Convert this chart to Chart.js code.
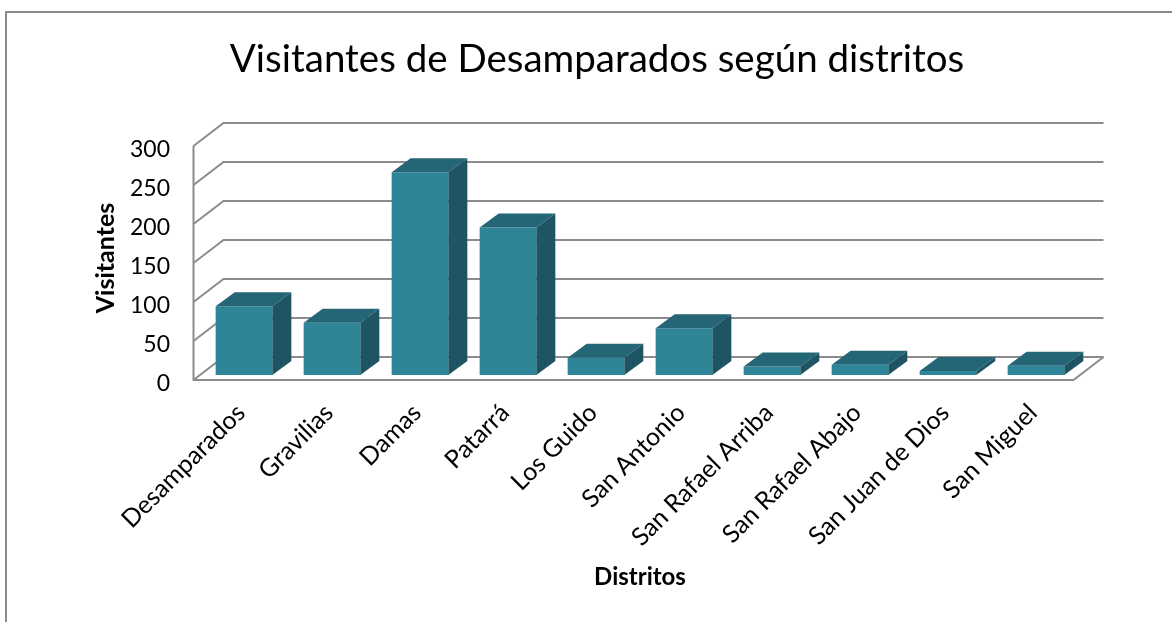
<!DOCTYPE html>
<html><head><meta charset="utf-8">
<script src="https://cdn.jsdelivr.net/npm/chart.js@4"></script>
<style>html,body{margin:0;padding:0;background:#fff}</style>
</head><body>
<canvas id="c" width="1172" height="622"></canvas>
<script>
const categories = ["Desamparados","Gravilias","Damas","Patarrá","Los Guido","San Antonio","San Rafael Arriba","San Rafael Abajo","San Juan de Dios","San Miguel"];
const visitantes = [88, 67, 260, 189, 22, 60, 11, 13, 5, 12];
const yTicks = [0, 50, 100, 150, 200, 250, 300];
const chartTitle = "Visitantes de Desamparados según distritos";
const xTitle = "Distritos";
const yTitle = "Visitantes";

const FONT = "Lato, 'Noto Sans', sans-serif";
const FLOOR = {dx: -6.5, dy: 5};    // front of floor relative to bar plane
const BACK = {dx: 23.5, dy: -18};   // back wall relative to bar plane
const BARDEPTH = {dx: 19, dy: -14};
const GRID = '#8c8c8c';

const threeD = {
  id: 'threeD',
  beforeDraw(chart) {
    const ctx = chart.ctx;
    ctx.save();
    ctx.fillStyle = '#fff';
    ctx.fillRect(0, 0, chart.width, chart.height);
    ctx.strokeStyle = '#8a8a8a';
    ctx.lineWidth = 2;
    ctx.beginPath();
    ctx.moveTo(6, chart.height);
    ctx.lineTo(6, 12);
    ctx.lineTo(chart.width, 12);
    ctx.stroke();
    ctx.restore();
  },
  beforeDatasetsDraw(chart) {
    const {ctx, chartArea: a, scales: {y}} = chart;
    ctx.save();
    ctx.strokeStyle = GRID;
    ctx.lineWidth = 2;
    yTicks.forEach(v => {
      const p = y.getPixelForValue(v);
      ctx.beginPath();
      ctx.moveTo(a.left + FLOOR.dx, p + FLOOR.dy);
      ctx.lineTo(a.left + BACK.dx, p + BACK.dy);
      ctx.lineTo(a.right + BACK.dx, p + BACK.dy);
      ctx.stroke();
    });
    const p0 = y.getPixelForValue(0), pTop = y.getPixelForValue(yTicks[yTicks.length - 1]);
    ctx.beginPath();
    ctx.moveTo(a.left + FLOOR.dx, pTop + FLOOR.dy);
    ctx.lineTo(a.left + FLOOR.dx, p0 + FLOOR.dy);
    ctx.lineTo(a.right + FLOOR.dx, p0 + FLOOR.dy);
    ctx.lineTo(a.right + BACK.dx, p0 + BACK.dy);
    ctx.stroke();
    ctx.restore();
  },
  afterDatasetsDraw(chart) {
    const ctx = chart.ctx;
    const meta = chart.getDatasetMeta(0);
    ctx.save();
    meta.data.forEach(bar => {
      const {x, y, base, width} = bar.getProps(['x', 'y', 'base', 'width'], true);
      const x0 = x - width / 2, x1 = x + width / 2;
      const dx = BARDEPTH.dx, dy = BARDEPTH.dy;
      ctx.fillStyle = '#246676';
      ctx.beginPath();
      ctx.moveTo(x0, y); ctx.lineTo(x0 + dx, y + dy); ctx.lineTo(x1 + dx, y + dy); ctx.lineTo(x1, y);
      ctx.closePath(); ctx.fill();
      ctx.fillStyle = '#1f5464';
      ctx.beginPath();
      ctx.moveTo(x1, y); ctx.lineTo(x1 + dx, y + dy); ctx.lineTo(x1 + dx, base + dy); ctx.lineTo(x1, base);
      ctx.closePath(); ctx.fill();
    });
    ctx.restore();
  }
};

new Chart(document.getElementById('c'), {
  type: 'bar',
  data: {
    labels: categories,
    datasets: [{
      label: yTitle,
      data: visitantes,
      backgroundColor: '#2f8598',
      borderWidth: 0,
      categoryPercentage: 1,
      barPercentage: 0.644,
      yAxisID: 'y'
    }]
  },
  options: {
    responsive: false,
    animation: false,
    devicePixelRatio: 1,
    layout: {padding: {left: 22, right: 0, top: 0, bottom: 0}},
    plugins: {
      legend: {display: false},
      tooltip: {enabled: false},
      title: {
        display: true,
        text: chartTitle,
        color: '#000',
        font: {family: FONT, size: 38.5, weight: 'normal', lineHeight: 1.2},
        padding: {top: 36.5, bottom: 58.3}
      }
    },
    scales: {
      x: {
        grid: {display: false},
        border: {display: false},
        ticks: {
          color: '#000',
          font: {family: FONT, size: 25},
          autoSkip: false,
          maxRotation: 45,
          minRotation: 45,
          padding: 15,
          labelOffset: -3
        },
        title: {
          display: true,
          text: xTitle,
          color: '#000',
          font: {family: FONT, size: 24, weight: 'bold', lineHeight: 1.2},
          padding: {top: 0, bottom: 30.6}
        },
        afterFit(s) { s.height = 247; }
      },
      y: {
        min: 0,
        max: 300,
        afterBuildTicks(s) { s.ticks = yTicks.map(v => ({value: v})); },
        grid: {display: false, drawTicks: false},
        border: {display: false},
        ticks: {
          color: '#000',
          font: {family: FONT, size: 23},
          padding: 30,
          labelOffset: 9
        },
        title: {
          display: true,
          text: yTitle,
          color: '#000',
          font: {family: FONT, size: 25, weight: 'bold', lineHeight: 1.2},
          padding: {top: 69, bottom: 0}
        },
        afterFit(s) { s.width = 178; }
      },
      yRight: {
        type: 'linear',
        position: 'right',
        display: true,
        grid: {display: false, drawTicks: false},
        border: {display: false},
        ticks: {display: false},
        afterFit(s) { s.width = 92; }
      }
    }
  },
  plugins: [threeD]
});
</script>
</body></html>
